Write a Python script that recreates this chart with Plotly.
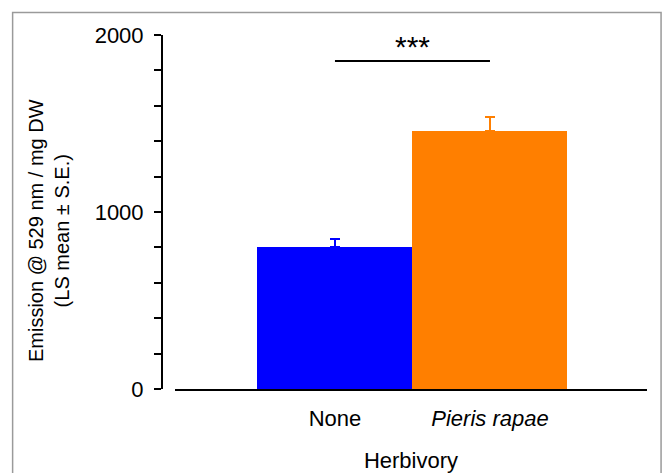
import plotly.graph_objects as go

categories = ["None", "Pieris rapae"]
tick_labels = ["None", "<i>Pieris rapae</i>"]
means = [802, 1458]
se = [45, 80]
colors = ["#0000FF", "#FF7F00"]
sig_y = 1853
sig_text = "***"
y_title = "Emission @ 529 nm / mg DW<br>(LS mean ± S.E.)"

FONT = "Liberation Sans, Arial, Helvetica, sans-serif"

fig = go.Figure()
for i, c in enumerate(categories):
    fig.add_trace(go.Bar(
        x=[c], y=[means[i]], width=1,
        marker=dict(color=colors[i], line=dict(width=0)),
        error_y=dict(type="data", array=[se[i]], arrayminus=[0], symmetric=False,
                     color=colors[i], thickness=2, width=5),
        showlegend=False,
    ))

fig.add_shape(type="line", xref="x", yref="y", x0=0, x1=1, y0=sig_y, y1=sig_y,
              line=dict(color="black", width=2))
fig.add_annotation(x=0.5, y=sig_y, xref="x", yref="y", text=sig_text, showarrow=False,
                   yanchor="bottom", yshift=-4, font=dict(size=30, color="black", family=FONT))

# y-axis title as rotated annotation
fig.add_annotation(x=-0.233, y=0.449, xref="paper", yref="paper", text=y_title,
                   showarrow=False, textangle=-90, xanchor="center", yanchor="middle",
                   font=dict(size=20, color="black", family=FONT))

# outer frame
fig.add_shape(type="rect", xref="paper", yref="paper", x0=-0.308, x1=1.029,
              y0=-0.35, y1=1.0636, line=dict(color="#9a9a9a", width=1.5), layer="below")

fig.update_layout(
    width=663, height=473,
    margin=dict(l=162, r=16, t=35, b=84, autoexpand=False),
    plot_bgcolor="white", paper_bgcolor="white",
    bargap=0,
    font=dict(family=FONT, size=22, color="black"),
    xaxis=dict(
        domain=[0.0268, 1], range=[-1.032, 2.013], automargin=False,
        type="category", tickmode="array", tickvals=categories, ticktext=tick_labels,
        showline=True, linecolor="black", linewidth=2, ticks="", showgrid=False,
        ticklabelstandoff=9, zeroline=False,
        title=dict(text="Herbivory", standoff=24, font=dict(size=22)),
    ),
    yaxis=dict(
        anchor="free", position=0, range=[0, 2000], automargin=False,
        tickvals=[0, 1000, 2000], ticks="outside", ticklen=7, tickwidth=2, tickcolor="black",
        minor=dict(tickvals=[200, 400, 600, 800, 1200, 1400, 1600, 1800], ticks="outside",
                   ticklen=7, tickwidth=2, tickcolor="black", showgrid=False),
        showline=True, linecolor="black", linewidth=2, showgrid=False, zeroline=False,
        ticklabelstandoff=6,
    ),
)

fig.write_html("out.html", config={"displayModeBar": False},
               post_script="document.body.style.margin='0';")
